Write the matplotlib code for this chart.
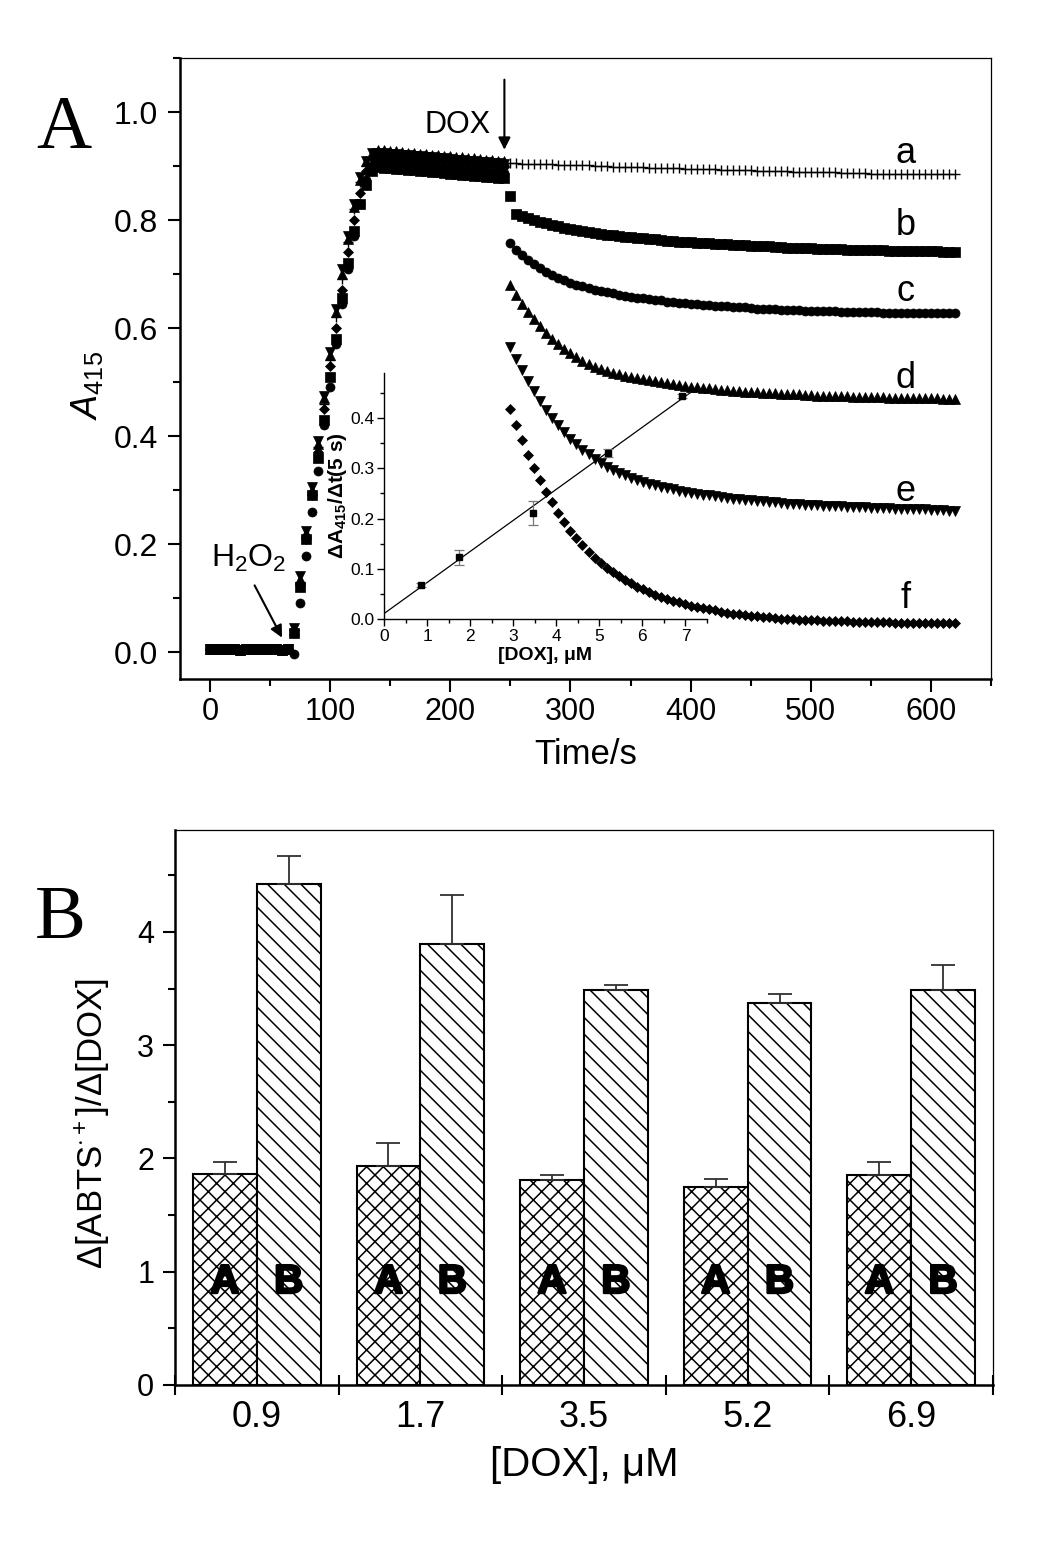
import numpy as np
import matplotlib
matplotlib.use('Agg')
import matplotlib.pyplot as plt
import matplotlib.patheffects as pe
from matplotlib import font_manager as fm
from matplotlib.ticker import MultipleLocator, FixedLocator, NullFormatter

# ---------------- panel A: A415 traces, one reading every 5 s ----------------
t_step = 5
# 0-65 s, before H2O2 (all six traces overlap)
base_all = [0.005, 0.005, 0.006, 0.005, 0.005, 0.004, 0.005,
            0.005, 0.006, 0.005, 0.005, 0.005, 0.004, 0.005]

# 70-135 s rise after H2O2
a_rise = [0.040, 0.130, 0.215, 0.295, 0.380, 0.460, 0.540, 0.620, 0.690, 0.760, 0.820, 0.870, 0.900, 0.915]
b_rise = [0.035, 0.120, 0.210, 0.290, 0.360, 0.430, 0.510, 0.580, 0.655, 0.720, 0.780, 0.830, 0.865, 0.890]
c_rise = [-0.003, 0.090, 0.178, 0.260, 0.335, 0.420, 0.490, 0.570, 0.645, 0.710, 0.770, 0.830, 0.875, 0.900]
d_rise = [0.040, 0.135, 0.220, 0.300, 0.385, 0.470, 0.550, 0.630, 0.700, 0.765, 0.825, 0.875, 0.910, 0.925]
e_rise = [0.045, 0.140, 0.225, 0.305, 0.390, 0.475, 0.555, 0.635, 0.710, 0.770, 0.830, 0.880, 0.910, 0.925]
f_rise = [0.040, 0.125, 0.210, 0.290, 0.370, 0.450, 0.530, 0.600, 0.670, 0.740, 0.800, 0.850, 0.890, 0.915]

# 140-245 s plateau
a_plat = [0.918, 0.917, 0.917, 0.916, 0.915, 0.915, 0.914, 0.913, 0.913, 0.912, 0.911,
          0.911, 0.910, 0.909, 0.909, 0.908, 0.907, 0.907, 0.906, 0.906, 0.905, 0.905]
b_plat = [0.898, 0.897, 0.896, 0.895, 0.894, 0.893, 0.892, 0.891, 0.890, 0.889, 0.888,
          0.887, 0.886, 0.885, 0.884, 0.883, 0.882, 0.881, 0.880, 0.879, 0.878, 0.877]
c_plat = [0.908, 0.907, 0.906, 0.905, 0.904, 0.903, 0.902, 0.901, 0.900, 0.899, 0.898,
          0.897, 0.896, 0.895, 0.894, 0.893, 0.892, 0.891, 0.890, 0.889, 0.888, 0.887]
d_plat = [0.930, 0.929, 0.928, 0.927, 0.926, 0.925, 0.924, 0.923, 0.922, 0.921, 0.920,
          0.919, 0.918, 0.917, 0.916, 0.915, 0.914, 0.913, 0.912, 0.911, 0.910, 0.909]
e_plat = [0.925, 0.924, 0.923, 0.922, 0.921, 0.920, 0.919, 0.918, 0.917, 0.916, 0.915,
          0.914, 0.913, 0.912, 0.911, 0.910, 0.909, 0.908, 0.907, 0.906, 0.905, 0.904]
f_plat = [0.920, 0.919, 0.918, 0.917, 0.916, 0.915, 0.914, 0.913, 0.912, 0.911, 0.910,
          0.909, 0.908, 0.907, 0.906, 0.905, 0.904, 0.903, 0.902, 0.901, 0.900, 0.899]

# 250-620 s after DOX
a_post = [0.905, 0.905, 0.904, 0.904, 0.904, 0.903, 0.903, 0.903, 0.902, 0.902,
          0.902, 0.901, 0.901, 0.901, 0.900, 0.900, 0.900, 0.899, 0.899, 0.899,
          0.898, 0.898, 0.898, 0.897, 0.897, 0.897, 0.896, 0.896, 0.896, 0.895,
          0.895, 0.895, 0.894, 0.894, 0.894, 0.893, 0.893, 0.893, 0.892, 0.892,
          0.892, 0.891, 0.891, 0.891, 0.890, 0.890, 0.890, 0.889, 0.889, 0.889,
          0.889, 0.888, 0.888, 0.888, 0.888, 0.887, 0.887, 0.887, 0.887, 0.887,
          0.886, 0.886, 0.886, 0.886, 0.886, 0.886, 0.885, 0.885, 0.885, 0.885,
          0.885, 0.885, 0.885, 0.885, 0.885]
b_post = [0.845, 0.812, 0.808, 0.804, 0.800, 0.797, 0.794, 0.791, 0.789, 0.786,
          0.784, 0.782, 0.780, 0.778, 0.776, 0.775, 0.773, 0.772, 0.770, 0.769,
          0.768, 0.767, 0.766, 0.765, 0.764, 0.763, 0.762, 0.761, 0.760, 0.760,
          0.759, 0.758, 0.757, 0.757, 0.756, 0.755, 0.755, 0.754, 0.753, 0.753,
          0.752, 0.752, 0.751, 0.751, 0.750, 0.750, 0.749, 0.749, 0.748, 0.748,
          0.748, 0.747, 0.747, 0.746, 0.746, 0.746, 0.745, 0.745, 0.745, 0.744,
          0.744, 0.744, 0.744, 0.743, 0.743, 0.743, 0.743, 0.742, 0.742, 0.742,
          0.742, 0.742, 0.741, 0.741, 0.741]
c_post = [0.757, 0.745, 0.735, 0.726, 0.718, 0.711, 0.704, 0.698, 0.693, 0.688,
          0.684, 0.680, 0.677, 0.674, 0.671, 0.668, 0.666, 0.664, 0.662, 0.660,
          0.658, 0.656, 0.655, 0.653, 0.652, 0.651, 0.649, 0.648, 0.647, 0.646,
          0.645, 0.644, 0.643, 0.642, 0.641, 0.641, 0.640, 0.639, 0.638, 0.638,
          0.637, 0.636, 0.636, 0.635, 0.635, 0.634, 0.634, 0.633, 0.633, 0.632,
          0.632, 0.632, 0.631, 0.631, 0.631, 0.630, 0.630, 0.630, 0.629, 0.629,
          0.629, 0.629, 0.628, 0.628, 0.628, 0.628, 0.628, 0.627, 0.627, 0.627,
          0.627, 0.627, 0.627, 0.627, 0.627]
d_post = [0.680, 0.662, 0.645, 0.630, 0.616, 0.603, 0.591, 0.580, 0.570, 0.561,
          0.553, 0.546, 0.539, 0.533, 0.528, 0.524, 0.520, 0.517, 0.514, 0.512,
          0.510, 0.508, 0.506, 0.504, 0.502, 0.500, 0.498, 0.496, 0.494, 0.493,
          0.491, 0.490, 0.489, 0.488, 0.487, 0.486, 0.485, 0.484, 0.483, 0.482,
          0.481, 0.481, 0.480, 0.479, 0.479, 0.478, 0.478, 0.477, 0.477, 0.476,
          0.476, 0.475, 0.475, 0.475, 0.474, 0.474, 0.474, 0.473, 0.473, 0.473,
          0.472, 0.472, 0.472, 0.471, 0.471, 0.471, 0.471, 0.470, 0.470, 0.470,
          0.470, 0.470, 0.469, 0.469, 0.469]
e_post = [0.565, 0.543, 0.522, 0.502, 0.483, 0.465, 0.449, 0.434, 0.420, 0.407,
          0.395, 0.385, 0.375, 0.366, 0.358, 0.350, 0.343, 0.337, 0.332, 0.327,
          0.323, 0.319, 0.315, 0.312, 0.309, 0.306, 0.303, 0.301, 0.299, 0.297,
          0.295, 0.293, 0.291, 0.290, 0.288, 0.287, 0.285, 0.284, 0.283, 0.282,
          0.281, 0.280, 0.279, 0.278, 0.277, 0.276, 0.275, 0.275, 0.274, 0.273,
          0.273, 0.272, 0.271, 0.271, 0.270, 0.270, 0.269, 0.269, 0.268, 0.268,
          0.267, 0.267, 0.266, 0.266, 0.265, 0.265, 0.265, 0.264, 0.264, 0.264,
          0.263, 0.263, 0.263, 0.262, 0.262]
f_post = [0.450, 0.420, 0.392, 0.365, 0.340, 0.318, 0.297, 0.277, 0.258, 0.241,
          0.225, 0.211, 0.198, 0.186, 0.175, 0.165, 0.156, 0.148, 0.140, 0.133,
          0.127, 0.121, 0.116, 0.111, 0.106, 0.102, 0.098, 0.095, 0.092, 0.089,
          0.086, 0.083, 0.081, 0.079, 0.077, 0.075, 0.073, 0.071, 0.070, 0.068,
          0.067, 0.066, 0.065, 0.064, 0.063, 0.062, 0.062, 0.061, 0.060, 0.060,
          0.059, 0.059, 0.058, 0.058, 0.057, 0.057, 0.057, 0.056, 0.056, 0.056,
          0.055, 0.055, 0.055, 0.055, 0.054, 0.054, 0.054, 0.054, 0.054, 0.054,
          0.053, 0.053, 0.053, 0.053, 0.053]

trace_labels = ['a', 'b', 'c', 'd', 'e', 'f']
label_y = [0.924, 0.790, 0.668, 0.506, 0.298, 0.100]

# inset: initial rate vs [DOX]
inset_dox = [0.87, 1.73, 3.46, 5.19, 6.92]
inset_rate = [0.068, 0.123, 0.212, 0.330, 0.445]
inset_err = [0.004, 0.015, 0.024, 0.008, 0.004]

# ---------------- panel B: stoichiometry ----------------
dox_conc = ['0.9', '1.7', '3.5', '5.2', '6.9']
ratio_A = [1.86, 1.93, 1.81, 1.75, 1.85]
err_A = [0.11, 0.21, 0.04, 0.07, 0.12]
ratio_B = [4.42, 3.89, 3.49, 3.37, 3.49]
err_B = [0.25, 0.44, 0.04, 0.08, 0.22]

# ---------------- fonts ----------------
names = {f.name for f in fm.fontManager.ttflist}
narrow = 'Liberation Sans Narrow' if 'Liberation Sans Narrow' in names else 'Liberation Sans'
plt.rcParams['font.family'] = ['Liberation Sans', 'DejaVu Sans']
plt.rcParams['mathtext.fontset'] = 'custom'
plt.rcParams['mathtext.rm'] = 'Liberation Sans'
plt.rcParams['mathtext.it'] = 'Liberation Sans:italic'
plt.rcParams['mathtext.bf'] = 'Liberation Sans:bold'
plt.rcParams['hatch.linewidth'] = 1.1

W, H = 1050, 1547
fig = plt.figure(figsize=(W / 100, H / 100), dpi=100)


def frac(left, top, right, bottom):
    return [left / W, 1 - bottom / H, (right - left) / W, (bottom - top) / H]


def style_frame(ax):
    for s in ['left', 'bottom']:
        ax.spines[s].set_linewidth(1.8)
    for s in ['top', 'right']:
        ax.spines[s].set_linewidth(0.9)


# ---------------- panel A ----------------
axA = fig.add_axes(frac(180, 58, 991, 679))
style_frame(axA)
markers = ['+', 's', 'o', '^', 'v', 'D']
sizes = [7, 6.5, 6.5, 7, 7, 5.5]
rises = [a_rise, b_rise, c_rise, d_rise, e_rise, f_rise]
plats = [a_plat, b_plat, c_plat, d_plat, e_plat, f_plat]
posts = [a_post, b_post, c_post, d_post, e_post, f_post]
for mk, ms, r, p, q in zip(markers, sizes, rises, plats, posts):
    y = base_all + r + p + q
    t = t_step * np.arange(len(y))
    axA.plot(t, y, ls='none', marker=mk, ms=ms, color='k', mew=1.0 if mk == '+' else 0.5)

axA.set_xlim(-25, 650)
axA.set_ylim(-0.05, 1.1)
axA.xaxis.set_major_locator(MultipleLocator(100))
axA.xaxis.set_minor_locator(MultipleLocator(50))
axA.yaxis.set_major_locator(MultipleLocator(0.2))
axA.yaxis.set_minor_locator(MultipleLocator(0.1))
axA.yaxis.set_major_formatter(matplotlib.ticker.FormatStrFormatter('%.1f'))
axA.tick_params(which='major', direction='out', length=9, width=1.5, labelsize=23)
axA.tick_params(which='minor', direction='out', length=5, width=1.5)
axA.tick_params(axis='y', pad=7)
axA.tick_params(axis='x', pad=4)
for lb in axA.get_xticklabels():
    lb.set_fontfamily(narrow)
    lb.set_fontsize(22)
axA.set_xlabel('Time/s', fontsize=25, fontfamily=narrow, va='center')
axA.xaxis.set_label_coords(0.5, -0.122)
axA.set_ylabel(r'$A_{415}$', fontsize=26, va='center')
axA.yaxis.set_label_coords(-0.115, 0.472)

for lab, ly in zip(trace_labels, label_y):
    axA.text(579, ly, lab, fontsize=26, ha='center', va='center')

axA.annotate('', xy=(245, 0.925), xytext=(245, 1.065),
             arrowprops=dict(arrowstyle='-|>', color='k', lw=1.5, mutation_scale=18))
axA.text(206, 0.976, 'DOX', fontsize=22, ha='center', va='center')
axA.annotate('', xy=(61, 0.022), xytext=(36, 0.128),
             arrowprops=dict(arrowstyle='-|>', color='k', lw=1.5, mutation_scale=18))
axA.text(32, 0.157, r'H$_2$O$_2$', fontsize=23, ha='center', va='baseline')

# ---------------- inset ----------------
ins = fig.add_axes(frac(384, 373, 707, 619))
ins.patch.set_alpha(0)
for s in ['top', 'right']:
    ins.spines[s].set_visible(False)
for s in ['left', 'bottom']:
    ins.spines[s].set_linewidth(1.0)
slope, icpt = np.polyfit(inset_dox, inset_rate, 1)
xfit = np.array([0, 7.25])
ins.plot(xfit, icpt + slope * xfit, color='k', lw=0.9)
ins.errorbar(inset_dox, inset_rate, yerr=inset_err, fmt='s', ms=4.5, color='k',
             ecolor='#777777', elinewidth=0.9, capsize=3.5, capthick=0.9)
ins.set_xlim(0, 7.5)
ins.set_ylim(0, 0.49)
ins.xaxis.set_major_locator(MultipleLocator(1))
ins.xaxis.set_minor_locator(MultipleLocator(0.5))
ins.yaxis.set_major_locator(FixedLocator([0, 0.1, 0.2, 0.3, 0.4]))
ins.yaxis.set_minor_locator(MultipleLocator(0.05))
ins.yaxis.set_major_formatter(matplotlib.ticker.FormatStrFormatter('%.1f'))
ins.tick_params(which='major', direction='out', length=5, width=1.0, labelsize=12.5, pad=2)
ins.tick_params(which='minor', direction='out', length=3, width=1.0)
ins.set_xlabel('[DOX], μM', fontsize=14, fontweight='bold', va='center')
ins.xaxis.set_label_coords(0.498, -0.15)
ins.set_ylabel(r'$\mathbf{\Delta A_{415}/\Delta t}$(5 s)', fontsize=15, fontweight='bold', va='center')
ins.yaxis.set_label_coords(-0.145, 0.5)

# ---------------- panel B ----------------
axB = fig.add_axes(frac(175, 830, 993, 1385))
style_frame(axB)
x = np.arange(len(dox_conc))
bw = 0.39
axB.bar(x - bw / 2, ratio_A, bw, color='white', edgecolor='k', linewidth=1.5, hatch='xx')
axB.bar(x + bw / 2, ratio_B, bw, color='white', edgecolor='k', linewidth=1.5, hatch='\\\\')
zeros = [0] * len(x)
axB.errorbar(x - bw / 2, ratio_A, yerr=[zeros, err_A], fmt='none', ecolor='#303030',
             elinewidth=1.3, capsize=8.5, capthick=1.3)
axB.errorbar(x + bw / 2, ratio_B, yerr=[zeros, err_B], fmt='none', ecolor='#303030',
             elinewidth=1.3, capsize=8.5, capthick=1.3)
heavy = [pe.withStroke(linewidth=1.8, foreground='k')]
for xi in x:
    axB.text(xi - bw / 2, 0.91, 'A', fontsize=29, fontweight='bold', ha='center', va='center',
             path_effects=heavy)
    axB.text(xi + bw / 2, 0.91, 'B', fontsize=29, fontweight='bold', ha='center', va='center',
             path_effects=heavy)

axB.set_xlim(-0.5, len(x) - 0.5)
axB.set_ylim(0, 4.9)
axB.xaxis.set_major_locator(FixedLocator(np.arange(len(x) + 1) - 0.5))
axB.xaxis.set_major_formatter(NullFormatter())
axB.set_xticks(x, dox_conc, minor=True)
axB.tick_params(axis='x', which='major', direction='inout', length=14, width=1.5)
axB.tick_params(axis='x', which='minor', length=0, pad=11)
for lb in axB.get_xticklabels(minor=True):
    lb.set_fontfamily(narrow)
    lb.set_fontsize(26)
axB.yaxis.set_major_locator(MultipleLocator(1))
axB.yaxis.set_minor_locator(MultipleLocator(0.5))
axB.tick_params(axis='y', which='major', direction='out', length=9, width=1.5, labelsize=22, pad=6)
axB.tick_params(axis='y', which='minor', direction='out', length=5, width=1.5)
axB.set_xlabel('[DOX], μM', fontsize=29, fontfamily=narrow, va='center')
axB.xaxis.set_label_coords(0.5, -0.144)
axB.set_ylabel(r'Δ[ABTS$^{\cdot+}$]/Δ[DOX]', fontsize=25, va='center')
axB.yaxis.set_label_coords(-0.101, 0.47)

# panel letters
fig.text(64 / W, 1 - 130 / H, 'A', fontsize=55, fontfamily='Liberation Serif', ha='center', va='center')
fig.text(60 / W, 1 - 920 / H, 'B', fontsize=55, fontfamily='Liberation Serif', ha='center', va='center')

fig.savefig('out.png', dpi=100)
